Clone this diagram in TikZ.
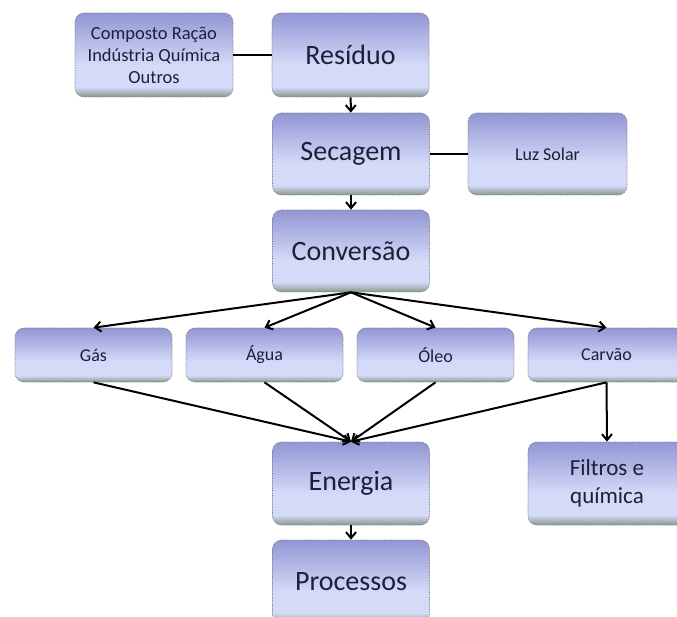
\documentclass[tikz,border=0pt]{standalone}
\usepackage{fontspec}
\setmainfont{Carlito}
\usetikzlibrary{arrows.meta}
\definecolor{topc}{RGB}{146,150,212}
\definecolor{lightc}{RGB}{212,218,248}
\definecolor{bandc}{RGB}{134,152,142}
\definecolor{txtc}{RGB}{28,32,56}
\pgfdeclareverticalshading{boxshade}{100bp}{color(0bp)=(bandc); color(25bp)=(bandc); color(31bp)=(lightc); color(44bp)=(lightc); color(75bp)=(topc); color(100bp)=(topc)}
\tikzset{
  box/.style={rectangle, rounded corners=9pt, shading=boxshade, draw=black!55, densely dotted, line width=0.7pt,
    minimum width=157pt, minimum height=83pt, inner sep=2pt, align=center, text=txtc},
  bigt/.style={font=\fontsize{28}{33}\selectfont},
  midt/.style={font=\fontsize{23}{28}\selectfont},
  smallt/.style={font=\fontsize{18}{22}\selectfont},
  rowbox/.style={box, minimum width=157pt, minimum height=54pt, smallt},
  conn/.style={solid, line width=2pt, black},
  arr/.style={conn, -{Straight Barb[length=6pt,width=10pt,line width=2pt]}}
}
\begin{document}
\begin{tikzpicture}[x=1pt,y=-1pt]
\useasboundingbox (0,0) rectangle (677,617);
\node[box, minimum width=158pt, minimum height=84pt, font=\fontsize{18.5}{22}\selectfont] (comp) at (154,55) {Composto Ração\\Indústria Química\\Outros};
\node[box, bigt, minimum height=84pt] (res) at (350.5,55) {Resíduo};
\node[box, bigt, minimum height=82pt] (sec) at (351,154) {Secagem};
\node[box, smallt, minimum width=159pt, minimum height=82pt] (luz) at (547.5,154) {Luz Solar};
\node[box, bigt, minimum height=82pt] (conv) at (351,251) {Conversão};
\node[rowbox] (gas) at (93.5,355) {Gás};
\node[rowbox] (agua) at (264.5,355) {Água};
\node[rowbox] (oleo) at (435.5,355) {Óleo};
\node[rowbox] (carv) at (606.5,355) {Carvão};
\node[box, bigt] (ener) at (351,483.5) {Energia};
\node[box, midt, minimum width=158pt] (filt) at (607,483.5) {Filtros e\\química};
\node[box, bigt] (proc) at (351,581.5) {Processos};

\draw[conn] (comp) -- (res);
\draw[conn] (sec) -- (luz);
\draw[arr] (res) -- (sec);
\draw[arr] (sec) -- (conv);
\draw[arr] (ener) -- (proc);
\foreach \n in {gas,agua,oleo,carv}{
  \draw[arr] (conv.south) -- (\n.north);
  \draw[arr] (\n.south) -- (ener.north);
}
\draw[arr] (carv.south) -- (filt.north);
\end{tikzpicture}
\end{document}
